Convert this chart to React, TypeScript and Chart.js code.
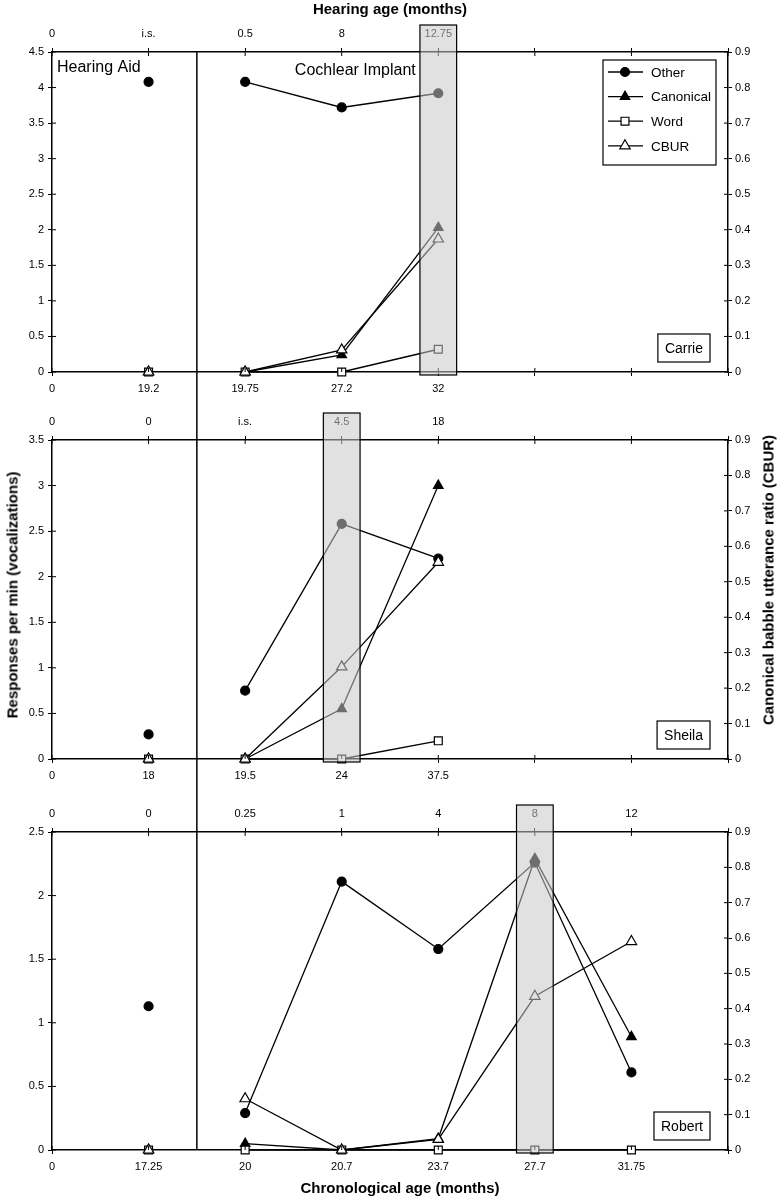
import React, { useEffect, useRef } from 'react';
import { Chart, registerables } from 'chart.js';
import { drawPoint } from 'chart.js/helpers';

Chart.register(...registerables);

// ---------- DATA ----------
const seriesNames = ['Other', 'Canonical', 'Word', 'CBUR'];

// Carrie
const carrieChrono = ['0', '19.2', '19.75', '27.2', '32'];
const carrieHearing = ['0', 'i.s.', '0.5', '8', '12.75'];
const carrieOther = [4.08, 4.08, 3.72, 3.92];
const carrieCanonical = [0, 0, 0.24, 2.03];
const carrieWord = [0, 0, 0, 0.32];
const carrieCbur = [0, 0, 0.062, 0.374];
const carrieHighlight = 4;
const carrieLeftMax = 4.5;

// Sheila
const sheilaChrono = ['0', '18', '19.5', '24', '37.5'];
const sheilaHearing = ['0', '0', 'i.s.', '4.5', '18'];
const sheilaOther = [0.27, 0.75, 2.58, 2.2];
const sheilaCanonical = [0, 0, 0.55, 3.0];
const sheilaWord = [0, 0, 0, 0.2];
const sheilaCbur = [0, 0, 0.26, 0.555];
const sheilaHighlight = 3;
const sheilaLeftMax = 3.5;

// Robert
const robertChrono = ['0', '17.25', '20', '20.7', '23.7', '27.7', '31.75'];
const robertHearing = ['0', '0', '0.25', '1', '4', '8', '12'];
const robertOther = [1.13, 0.29, 2.11, 1.58, 2.26, 0.61];
const robertCanonical = [0, 0.05, 0, 0.09, 2.29, 0.89];
const robertWord = [0, 0, 0, 0, 0, 0];
const robertCbur = [0, 0.145, 0, 0.03, 0.435, 0.59];
const robertHighlight = 5;
const robertLeftMax = 2.5;

const xMax = 7;
const rightMax = 0.9;
const implantBoundary = 1.5;

// ---------- STYLE ----------
const FONT = "'Liberation Sans', Arial, Helvetica, sans-serif";

const seriesStyles = [
  { pointStyle: 'circle', radius: 4.5, bg: '#000', axis: 'y', order: 4 },
  { pointStyle: 'triangle', radius: 5.5, bg: '#000', axis: 'y', order: 3 },
  { pointStyle: 'rect', radius: 5.6, bg: '#fff', axis: 'y', order: 2 },
  { pointStyle: 'triangle', radius: 6, bg: '#fff', axis: 'y2', order: 1 },
];

type PanelDef = {
  name: string;
  chrono: string[];
  hearing: string[];
  series: number[][];
  highlight: number;
  leftMax: number;
  legend: boolean;
  captions: boolean;
  canvasTop: number;
  canvasH: number;
  plotTop: number;
  plotBottom: number;
  lineFrom: 'plot' | 'canvas';
  lineTo: 'plot' | 'canvas';
};

const panels: PanelDef[] = [
  {
    name: 'Carrie', chrono: carrieChrono, hearing: carrieHearing,
    series: [carrieOther, carrieCanonical, carrieWord, carrieCbur],
    highlight: carrieHighlight, leftMax: carrieLeftMax, legend: true, captions: true,
    canvasTop: 0, canvasH: 400, plotTop: 52, plotBottom: 372, lineFrom: 'plot', lineTo: 'canvas',
  },
  {
    name: 'Sheila', chrono: sheilaChrono, hearing: sheilaHearing,
    series: [sheilaOther, sheilaCanonical, sheilaWord, sheilaCbur],
    highlight: sheilaHighlight, leftMax: sheilaLeftMax, legend: false, captions: false,
    canvasTop: 400, canvasH: 400, plotTop: 40, plotBottom: 359, lineFrom: 'canvas', lineTo: 'canvas',
  },
  {
    name: 'Robert', chrono: robertChrono, hearing: robertHearing,
    series: [robertOther, robertCanonical, robertWord, robertCbur],
    highlight: robertHighlight, leftMax: robertLeftMax, legend: false, captions: false,
    canvasTop: 800, canvasH: 400, plotTop: 32, plotBottom: 350, lineFrom: 'canvas', lineTo: 'plot',
  },
];

const fmt = (v: number) => String(Number(Number(v).toFixed(2)));

const decorPlugin = {
  id: 'decor',
  afterDatasetsDraw(chart: any, _args: any, opts: any) {
    const p: PanelDef = opts.panel;
    const ctx = chart.ctx;
    const area = chart.chartArea;
    const xs = chart.scales.x;
    const ys = chart.scales.y;
    const ys2 = chart.scales.y2;
    const x2 = chart.scales.x2;
    ctx.save();

    // vertical hearing-aid / implant divider
    const vx = xs.getPixelForValue(implantBoundary);
    ctx.strokeStyle = '#000';
    ctx.lineWidth = 1.5;
    ctx.beginPath();
    ctx.moveTo(vx, p.lineFrom === 'plot' ? area.top : 0);
    ctx.lineTo(vx, p.lineTo === 'plot' ? area.bottom : chart.height);
    ctx.stroke();

    // inner tick marks
    ctx.lineWidth = 1;
    ctx.beginPath();
    ys.ticks.forEach((_t: any, i: number) => {
      const y = ys.getPixelForTick(i);
      ctx.moveTo(area.left, y);
      ctx.lineTo(area.left + 4, y);
    });
    ys2.ticks.forEach((_t: any, i: number) => {
      const y = ys2.getPixelForTick(i);
      ctx.moveTo(area.right, y);
      ctx.lineTo(area.right - 4, y);
    });
    xs.ticks.forEach((_t: any, i: number) => {
      const x = xs.getPixelForTick(i);
      ctx.moveTo(x, area.bottom);
      ctx.lineTo(x, area.bottom - 4);
    });
    x2.ticks.forEach((_t: any, i: number) => {
      const x = x2.getPixelForTick(i);
      ctx.moveTo(x, area.top);
      ctx.lineTo(x, area.top + 4);
    });
    ctx.stroke();

    // highlighted session
    const hx0 = xs.getPixelForValue(p.highlight - 0.19);
    const hx1 = xs.getPixelForValue(p.highlight + 0.19);
    const hy0 = area.top - 27;
    const hy1 = area.bottom + 3;
    ctx.fillStyle = 'rgba(200,200,200,0.55)';
    ctx.fillRect(hx0, hy0, hx1 - hx0, hy1 - hy0);
    ctx.strokeStyle = '#000';
    ctx.lineWidth = 1.2;
    ctx.strokeRect(hx0, hy0, hx1 - hx0, hy1 - hy0);

    // child name box
    ctx.font = `14px ${FONT}`;
    ctx.textBaseline = 'middle';
    ctx.textAlign = 'left';
    const tw = ctx.measureText(p.name).width;
    const bw = tw + 14;
    const bh = 28;
    const bx = area.right - 18 - bw;
    const by = area.bottom - 10 - bh;
    ctx.fillStyle = '#fff';
    ctx.fillRect(bx, by, bw, bh);
    ctx.lineWidth = 1.2;
    ctx.strokeRect(bx, by, bw, bh);
    ctx.fillStyle = '#000';
    ctx.fillText(p.name, bx + 7, by + bh / 2 + 1);

    if (p.captions) {
      ctx.font = `16px ${FONT}`;
      ctx.fillText('Hearing Aid', area.left + 5, area.top + 16);
      ctx.fillText('Cochlear Implant', vx + 98, area.top + 19);
    }

    if (p.legend) {
      const lx = area.right - 125;
      const ly = area.top + 8;
      const lw = 113;
      const lh = 105;
      ctx.fillStyle = '#fff';
      ctx.fillRect(lx, ly, lw, lh);
      ctx.lineWidth = 1.2;
      ctx.strokeStyle = '#000';
      ctx.strokeRect(lx, ly, lw, lh);
      ctx.font = `13.5px ${FONT}`;
      chart.data.datasets.forEach((ds: any, i: number) => {
        const cy = ly + 12 + i * 24.6;
        ctx.strokeStyle = '#000';
        ctx.lineWidth = 1.3;
        ctx.beginPath();
        ctx.moveTo(lx + 5, cy);
        ctx.lineTo(lx + 40, cy);
        ctx.stroke();
        ctx.fillStyle = ds.pointBackgroundColor;
        ctx.strokeStyle = '#000';
        ctx.lineWidth = 1.2;
        drawPoint(ctx, { pointStyle: ds.pointStyle, radius: ds.pointRadius, rotation: 0, borderWidth: 1.2 }, lx + 22, cy);
        ctx.fillStyle = '#000';
        ctx.fillText(ds.label, lx + 48, cy + 1);
      });
    }
    ctx.restore();
  },
};

function Panel({ p }: { p: PanelDef }) {
  const ref = useRef<HTMLCanvasElement>(null);
  useEffect(() => {
    if (!ref.current) return;
    const tickFont = { family: FONT, size: 11 };
    const grid = { display: true, drawOnChartArea: false, drawTicks: true, tickLength: 4, color: '#000', lineWidth: 1 };
    const border = { display: true, color: '#000', width: 1.5 };
    const datasets = p.series.map((vals, si) => {
      const st = seriesStyles[si];
      return {
        label: seriesNames[si],
        data: vals.map((v, i) => ({ x: i + 1, y: v })),
        yAxisID: st.axis,
        order: st.order,
        borderColor: '#000',
        borderWidth: 1.3,
        pointStyle: st.pointStyle,
        pointRadius: st.radius,
        pointBackgroundColor: st.bg,
        pointBorderColor: '#000',
        pointBorderWidth: 1.2,
        tension: 0,
        clip: false,
        segment: {
          borderColor: (c: any) => (c.p0DataIndex === 0 ? 'rgba(0,0,0,0)' : '#000'),
        },
      };
    });
    const chart = new Chart(ref.current, {
      type: 'line',
      data: { datasets } as any,
      options: {
        animation: false,
        responsive: false,
        devicePixelRatio: 1,
        events: [],
        layout: { padding: 0 },
        plugins: {
          legend: { display: false },
          tooltip: { enabled: false },
          decor: { panel: p },
        } as any,
        scales: {
          x: {
            type: 'linear', position: 'bottom', min: 0, max: xMax,
            ticks: { stepSize: 1, autoSkip: false, maxRotation: 0, padding: 6, color: '#000', font: tickFont,
              callback: (v: any) => p.chrono[v] ?? '' },
            grid, border,
            afterFit: (s: any) => { s.height = p.canvasH - p.plotBottom; },
          },
          x2: {
            type: 'linear', position: 'top', min: 0, max: xMax,
            ticks: { stepSize: 1, autoSkip: false, maxRotation: 0, padding: 7, color: '#000', font: tickFont,
              callback: (v: any) => p.hearing[v] ?? '' },
            grid, border,
            afterFit: (s: any) => { s.height = p.plotTop; },
          },
          y: {
            type: 'linear', position: 'left', min: 0, max: p.leftMax,
            ticks: { stepSize: 0.5, padding: 4, color: '#000', font: tickFont, callback: (v: any) => fmt(v) },
            grid, border,
            afterFit: (s: any) => { s.width = 52; },
          },
          y2: {
            type: 'linear', position: 'right', min: 0, max: rightMax,
            ticks: { stepSize: 0.1, padding: 3, color: '#000', font: tickFont, callback: (v: any) => fmt(v) },
            grid, border,
            afterFit: (s: any) => { s.width = 52; },
          },
        } as any,
      },
      plugins: [decorPlugin as any],
    });
    return () => chart.destroy();
  }, [p]);
  return (
    <canvas
      ref={ref}
      width={780}
      height={p.canvasH}
      style={{ position: 'absolute', left: 0, top: p.canvasTop, width: 780, height: p.canvasH, display: 'block' }}
    />
  );
}

export default function App() {
  const titleStyle: React.CSSProperties = {
    position: 'absolute', fontFamily: FONT, fontWeight: 'bold', fontSize: 15, color: '#000', whiteSpace: 'nowrap',
  };
  return (
    <div style={{ position: 'relative', width: 780, height: 1200, background: '#fff', overflow: 'hidden' }}>
      <style>{'body{margin:0;background:#fff}'}</style>
      {panels.map((p) => (
        <Panel key={p.name} p={p} />
      ))}
      <div style={{ ...titleStyle, left: 0, width: 780, top: 0, textAlign: 'center', lineHeight: '18px' }}>
        Hearing age (months)
      </div>
      <div style={{ ...titleStyle, left: 0, width: 800, top: 1179, textAlign: 'center', lineHeight: '18px' }}>
        Chronological age (months)
      </div>
      <div style={{ ...titleStyle, left: 12, top: 595, transform: 'translate(-50%,-50%) rotate(-90deg)' }}>
        Responses per min (vocalizations)
      </div>
      <div style={{ ...titleStyle, left: 768, top: 580, transform: 'translate(-50%,-50%) rotate(-90deg)' }}>
        Canonical babble utterance ratio (CBUR)
      </div>
    </div>
  );
}
